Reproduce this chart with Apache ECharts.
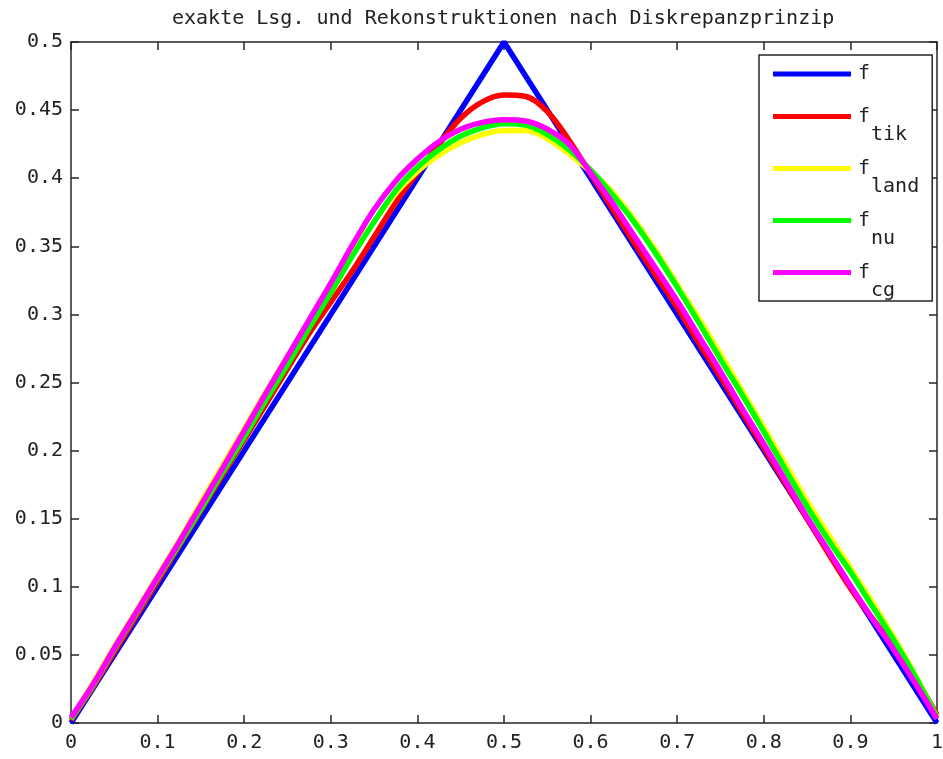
<!DOCTYPE html>
<html>
<head>
<meta charset="utf-8">
<title>exakte Lsg. und Rekonstruktionen nach Diskrepanzprinzip</title>
<script src="https://cdn.jsdelivr.net/npm/echarts@6/dist/echarts.min.js"></script>
<style>
  html, body { margin: 0; padding: 0; background: #fff; }
  #chart { width: 943px; height: 759px; }
</style>
</head>
<body>
<div id="chart"></div>
<script>
// Exact solution (hat function) given by its corner points
const exactX = [0, 0.5, 1];
const exactY = [0, 0.5, 0];

// Common sample grid of the reconstructions
const gridX = [0, 0.025, 0.05, 0.075, 0.1, 0.125, 0.15, 0.175, 0.2, 0.225,
  0.25, 0.275, 0.3, 0.325, 0.35, 0.375, 0.4, 0.425, 0.45, 0.475,
  0.5, 0.525, 0.55, 0.575, 0.6, 0.625, 0.65, 0.675, 0.7, 0.725,
  0.75, 0.775, 0.8, 0.825, 0.85, 0.875, 0.9, 0.925, 0.95, 0.975, 1];

// Tikhonov reconstruction
const tikY = [0.002, 0.026, 0.052, 0.078, 0.104, 0.130, 0.156, 0.182, 0.208, 0.234,
  0.260, 0.286, 0.309, 0.332, 0.357, 0.382, 0.404, 0.425, 0.444, 0.456,
  0.461, 0.460, 0.449, 0.428, 0.403, 0.378, 0.353, 0.329, 0.305, 0.279,
  0.254, 0.228, 0.202, 0.176, 0.150, 0.124, 0.099, 0.077, 0.057, 0.033, 0.006];

// Landweber reconstruction
const landY = [0.003, 0.029, 0.056, 0.082, 0.108, 0.134, 0.162, 0.189, 0.216, 0.243,
  0.269, 0.295, 0.320, 0.345, 0.368, 0.389, 0.405, 0.417, 0.426, 0.432,
  0.435, 0.435, 0.429, 0.418, 0.405, 0.390, 0.370, 0.347, 0.322, 0.297,
  0.271, 0.244, 0.217, 0.190, 0.163, 0.138, 0.114, 0.089, 0.063, 0.035, 0.004];

// nu-method reconstruction
const nuY = [0.003, 0.027, 0.054, 0.080, 0.106, 0.131, 0.157, 0.184, 0.210, 0.237,
  0.263, 0.290, 0.316, 0.343, 0.368, 0.391, 0.408, 0.421, 0.431, 0.437,
  0.440, 0.439, 0.432, 0.421, 0.406, 0.388, 0.368, 0.345, 0.320, 0.294,
  0.267, 0.241, 0.214, 0.186, 0.159, 0.134, 0.111, 0.086, 0.061, 0.034, 0.004];

// CG reconstruction
const cgY = [0.004, 0.028, 0.055, 0.081, 0.107, 0.133, 0.160, 0.187, 0.2145, 0.242,
  0.269, 0.296, 0.323, 0.351, 0.377, 0.398, 0.414, 0.427, 0.436, 0.441,
  0.443, 0.442, 0.436, 0.425, 0.404, 0.382, 0.358, 0.334, 0.310, 0.284,
  0.258, 0.231, 0.205, 0.178, 0.151, 0.126, 0.101, 0.077, 0.054, 0.029, 0.003];

// Axis ticks
const xTicks = { min: 0, max: 1, step: 0.1 };
const yTicks = { min: 0, max: 0.5, step: 0.05 };

// Series names (symbol and subscript) and colours
const seriesNames = ['f', 'f_tik', 'f_land', 'f_nu', 'f_cg'];
const seriesColors = ['#0000ff', '#ff0000', '#ffff00', '#00ff00', '#ff00ff'];
const titleText = 'exakte Lsg. und Rekonstruktionen nach Diskrepanzprinzip';

const FONT = 'DejaVu Sans Mono';
const INK = '#262626';

function pairs(xs, ys) {
  return xs.map((x, i) => [x, ys[i]]);
}

const seriesData = [
  pairs(exactX, exactY),
  pairs(gridX, tikY),
  pairs(gridX, landY),
  pairs(gridX, nuY),
  pairs(gridX, cgY)
];

function axisCommon(ticks) {
  return {
    type: 'value',
    min: ticks.min,
    max: ticks.max,
    interval: ticks.step,
    axisLine: { show: true, onZero: false, lineStyle: { color: INK, width: 1.5 } },
    axisTick: { show: true, inside: true, length: 8, lineStyle: { color: INK, width: 1.5 } },
    splitLine: { show: false },
    axisLabel: { color: '#222', fontFamily: FONT, fontSize: 20 }
  };
}

const chart = echarts.init(document.getElementById('chart'), null, { renderer: 'canvas' });

chart.setOption({
  animation: false,
  backgroundColor: '#fff',
  title: {
    text: titleText,
    left: 172,
    top: 9,
    padding: 0,
    textStyle: { fontFamily: FONT, fontSize: 20, fontWeight: 'normal', color: '#222' }
  },
  grid: { left: 71, right: 6, top: 42, bottom: 36, containLabel: false, outerBoundsMode: 'none' },
  xAxis: [
    Object.assign(axisCommon(xTicks), { position: 'bottom',
      axisLabel: { color: '#222', fontFamily: FONT, fontSize: 20, margin: 10 } }),
    Object.assign(axisCommon(xTicks), { position: 'top', axisLabel: { show: false } })
  ],
  yAxis: [
    Object.assign(axisCommon(yTicks), { position: 'left',
      axisLabel: { color: '#222', fontFamily: FONT, fontSize: 20, margin: 8 } }),
    Object.assign(axisCommon(yTicks), { position: 'right', axisLabel: { show: false } })
  ],
  legend: {
    orient: 'vertical',
    left: 759,
    top: 55,
    padding: [0, 13, 0, 14],
    itemGap: -5,
    itemWidth: 78,
    itemHeight: 5,
    icon: 'rect',
    backgroundColor: '#fff',
    borderColor: INK,
    borderWidth: 1.5,
    borderRadius: 0,
    data: seriesNames,
    formatter: function (name) {
      const parts = name.split('_');
      if (parts.length === 1) return '{f|' + parts[0] + '}{e| }';
      return '{f|' + parts[0] + '}{s|' + parts[1] + '}';
    },
    textStyle: {
      fontFamily: FONT,
      fontSize: 20,
      color: '#222',
      rich: {
        f: { fontFamily: FONT, fontSize: 20, lineHeight: 12, color: '#222', padding: [0, 0, 0, 2] },
        s: { fontFamily: FONT, fontSize: 20, lineHeight: 12, color: '#222', padding: [37, 0, 0, 1] },
        e: { fontFamily: FONT, fontSize: 20, lineHeight: 12, padding: [18, 0, 0, 0] }
      }
    }
  },
  series: seriesNames.map((name, i) => ({
    name: name,
    type: 'line',
    xAxisIndex: 0,
    yAxisIndex: 0,
    data: seriesData[i],
    showSymbol: false,
    smooth: i === 0 ? false : 0.35,
    color: seriesColors[i],
    lineStyle: { color: seriesColors[i], width: 5.5 },
    emphasis: { disabled: true }
  }))
});
</script>
</body>
</html>
